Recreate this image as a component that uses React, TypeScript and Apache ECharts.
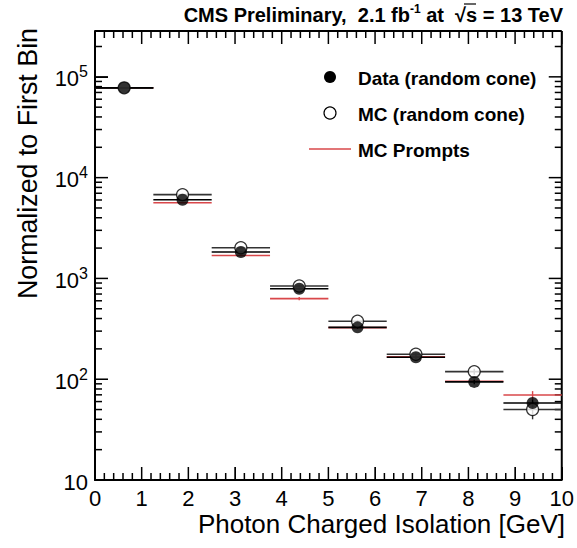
import React, { useEffect, useRef } from 'react';
import * as echarts from 'echarts';

// ---- data ----
const binEdges = [0, 1.25, 2.5, 3.75, 5, 6.25, 7.5, 8.75, 10];
const dataValues = [77800, 6040, 1830, 790, 327, 165, 94, 58];
const dataErrors = [280, 60, 30, 18, 10, 7, 5, 5];
const mcValues = [77800, 6780, 2014, 841, 376, 177, 119, 50];
const mcErrors = [280, 60, 30, 18, 12, 8, 8, 10];
const promptValues = [77800, 5640, 1690, 631, 325, 167, 95.5, 69.7];
const promptErrors = [300, 40, 15, 22, 3, 2, 2, 6.5];
const xTickLabels = ['0', '1', '2', '3', '4', '5', '6', '7', '8', '9', '10'];
const xMinorSteps = [0.2, 0.4, 0.6, 0.8];
const yDecades = [10, 100, 1000, 10000, 100000];
const yMinorMultipliers = [2, 3, 4, 5, 6, 7, 8, 9];

const X_MIN = 0;
const X_MAX = 10;
const Y_MIN = 10;
const Y_MAX = 285000;

const FONT = 'Liberation Sans, Arial, Helvetica, sans-serif';
const RED = '#d9474a';
const MAJOR_LEN = 13;
const MINOR_LEN = 7;

function histData(values: number[], errors: number[]) {
  return values.map((v, i) => [binEdges[i], binEdges[i + 1], v, errors[i]]);
}

function pointData(values: number[]) {
  return values.map((v, i) => [(binEdges[i] + binEdges[i + 1]) / 2, v]);
}

function histSeries(name: string, values: number[], errors: number[], color: string) {
  return {
    name,
    type: 'custom',
    encode: { x: [0, 1], y: [2] },
    data: histData(values, errors),
    renderItem: (params: any, api: any) => {
      const lo = api.value(0);
      const hi = api.value(1);
      const v = api.value(2);
      const e = api.value(3);
      const c = (lo + hi) / 2;
      const p1 = api.coord([lo, v]);
      const p2 = api.coord([hi, v]);
      const pu = api.coord([c, v + e]);
      const pd = api.coord([c, Math.max(v - e, Y_MIN)]);
      return {
        type: 'group',
        children: [
          { type: 'line', shape: { x1: p1[0], y1: p1[1], x2: p2[0], y2: p2[1] }, style: { stroke: color, lineWidth: 1.6 } },
          { type: 'line', shape: { x1: pu[0], y1: pu[1], x2: pd[0], y2: pd[1] }, style: { stroke: color, lineWidth: 1.4 } },
        ],
      };
    },
  };
}

export default function App() {
  const ref = useRef<HTMLDivElement>(null);

  useEffect(() => {
    if (!ref.current) return;
    const chart = echarts.init(ref.current, undefined, { renderer: 'svg' });

    const yLabelFormatter = (v: number) => {
      const e = Math.round(Math.log10(v));
      if (Math.abs(v - Math.pow(10, e)) > 1e-6 * v) return '';
      if (e === 1) return '{b|10}';
      return `{b|10}{s|${e}}`;
    };

    chart.setOption({
      animation: false,
      grid: { left: 95, right: 13, top: 31, bottom: 68 },
      xAxis: {
        type: 'value', min: X_MIN, max: X_MAX, interval: 1,
        axisLine: { show: true, onZero: false, lineStyle: { color: '#000', width: 2 } },
        axisTick: { show: true, inside: true, length: MAJOR_LEN },
        splitLine: { show: false },
        axisLabel: {
          show: true, margin: 7, color: '#000', fontFamily: FONT, fontSize: 22,
          formatter: (v: number) => xTickLabels[Math.round(v)] ?? '',
        },
      },
      yAxis: {
        type: 'log', min: Y_MIN, max: Y_MAX,
        axisLine: { show: true, onZero: false, lineStyle: { color: '#000', width: 2 } },
        axisTick: { show: true, inside: true, length: MAJOR_LEN },
        splitLine: { show: false },
        axisLabel: {
          show: true, showMaxLabel: false, margin: 7, color: '#000', fontFamily: FONT,
          formatter: yLabelFormatter,
          rich: {
            b: { fontSize: 22, fontFamily: FONT, color: '#000', verticalAlign: 'bottom', lineHeight: 26 },
            s: { fontSize: 16, fontFamily: FONT, color: '#000', verticalAlign: 'top', lineHeight: 16 },
          },
        },
      },
      series: [
        histSeries('MC Prompts', promptValues, promptErrors, RED),
        histSeries('MC (random cone) hist', mcValues, mcErrors, '#333'),
        histSeries('Data (random cone) hist', dataValues, dataErrors, '#000'),
        {
          name: 'MC (random cone)', type: 'scatter', symbol: 'circle', symbolSize: 12,
          data: pointData(mcValues),
          itemStyle: { color: '#fff', borderColor: '#000', borderWidth: 1.2 },
        },
        {
          name: 'Data (random cone)', type: 'scatter', symbol: 'circle', symbolSize: 12,
          data: pointData(dataValues),
          itemStyle: { color: '#000' },
        },
      ],
    } as any);

    const toPx = (x: number, y: number) =>
      chart.convertToPixel({ xAxisIndex: 0, yAxisIndex: 0 } as any, [x, y]) as number[];

    const els: any[] = [];
    const tl = toPx(X_MIN, Y_MAX);
    const tr = toPx(X_MAX, Y_MAX);
    const br = toPx(X_MAX, Y_MIN);
    els.push({ type: 'line', shape: { x1: tl[0], y1: tl[1], x2: tr[0], y2: tr[1] }, style: { stroke: '#000', lineWidth: 2 } });
    els.push({ type: 'line', shape: { x1: tr[0], y1: tr[1], x2: br[0], y2: br[1] }, style: { stroke: '#000', lineWidth: 2 } });

    const w = 1.5;
    const addX = (x: number, len: number) => {
      const pt = toPx(x, Y_MAX);
      const pb = toPx(x, Y_MIN);
      els.push({ type: 'rect', shape: { x: pt[0] - w / 2, y: pt[1], width: w, height: len }, style: { fill: '#000' } });
      els.push({ type: 'rect', shape: { x: pb[0] - w / 2, y: pb[1] - len, width: w, height: len }, style: { fill: '#000' } });
    };
    const addY = (y: number, len: number) => {
      const pl = toPx(X_MIN, y);
      const pr = toPx(X_MAX, y);
      els.push({ type: 'rect', shape: { x: pl[0], y: pl[1] - w / 2, width: len, height: w }, style: { fill: '#000' } });
      els.push({ type: 'rect', shape: { x: pr[0] - len, y: pr[1] - w / 2, width: len, height: w }, style: { fill: '#000' } });
    };
    xTickLabels.forEach((_, i) => {
      addX(i, MAJOR_LEN);
      if (i < xTickLabels.length - 1) xMinorSteps.forEach((s) => addX(i + s, MINOR_LEN));
    });
    yDecades.forEach((d) => {
      if (d > Y_MIN) addY(d, MAJOR_LEN);
      yMinorMultipliers.forEach((m) => {
        if (d * m < Y_MAX) addY(d * m, MINOR_LEN);
      });
    });

    els.push({
      type: 'text', x: 563, y: 14,
      style: {
        text: '{t|CMS Preliminary,  2.1 fb}{sup|-1}{t| at  √s = 13 TeV}',
        align: 'right', verticalAlign: 'middle', fontFamily: FONT,
        rich: {
          t: { fontSize: 20, fontWeight: 'bold', fontFamily: FONT, fill: '#000', verticalAlign: 'bottom', lineHeight: 22 },
          sup: { fontSize: 12, fontWeight: 'bold', fontFamily: FONT, fill: '#000', verticalAlign: 'top', lineHeight: 12 },
        },
      },
    });
    els.push({ type: 'line', shape: { x1: 464, y1: 4, x2: 476, y2: 4 }, style: { stroke: '#000', lineWidth: 1.2 } });
    els.push({
      type: 'text', x: 565, y: 524,
      style: { text: 'Photon Charged Isolation [GeV]', fontFamily: FONT, fontSize: 26, fill: '#000', align: 'right', verticalAlign: 'middle' },
    });
    els.push({
      type: 'text', x: 28, y: 28, rotation: Math.PI / 2,
      style: { text: 'Normalized to First Bin', fontFamily: FONT, fontSize: 26.8, fill: '#000', align: 'right', verticalAlign: 'middle' },
    });
    els.push({ type: 'circle', shape: { cx: 330, cy: 77, r: 6 }, style: { fill: '#000' } });
    els.push({
      type: 'text', x: 358, y: 78,
      style: { text: 'Data (random cone)', fontFamily: FONT, fontSize: 19, fontWeight: 'bold', fill: '#000', align: 'left', verticalAlign: 'middle' },
    });
    els.push({ type: 'circle', shape: { cx: 330, cy: 113, r: 6 }, style: { fill: '#fff', stroke: '#000', lineWidth: 1.2 } });
    els.push({
      type: 'text', x: 358, y: 114,
      style: { text: 'MC (random cone)', fontFamily: FONT, fontSize: 19, fontWeight: 'bold', fill: '#000', align: 'left', verticalAlign: 'middle' },
    });
    els.push({ type: 'line', shape: { x1: 309, y1: 149, x2: 351, y2: 149 }, style: { stroke: RED, lineWidth: 1.5 } });
    els.push({
      type: 'text', x: 358, y: 150,
      style: { text: 'MC Prompts', fontFamily: FONT, fontSize: 19, fontWeight: 'bold', fill: '#000', align: 'left', verticalAlign: 'middle' },
    });

    chart.setOption({ graphic: els });

    return () => chart.dispose();
  }, []);

  return (
    <div ref={ref} style={{ position: 'fixed', left: 0, top: 0, width: 577, height: 548, background: '#fff' }} />
  );
}
